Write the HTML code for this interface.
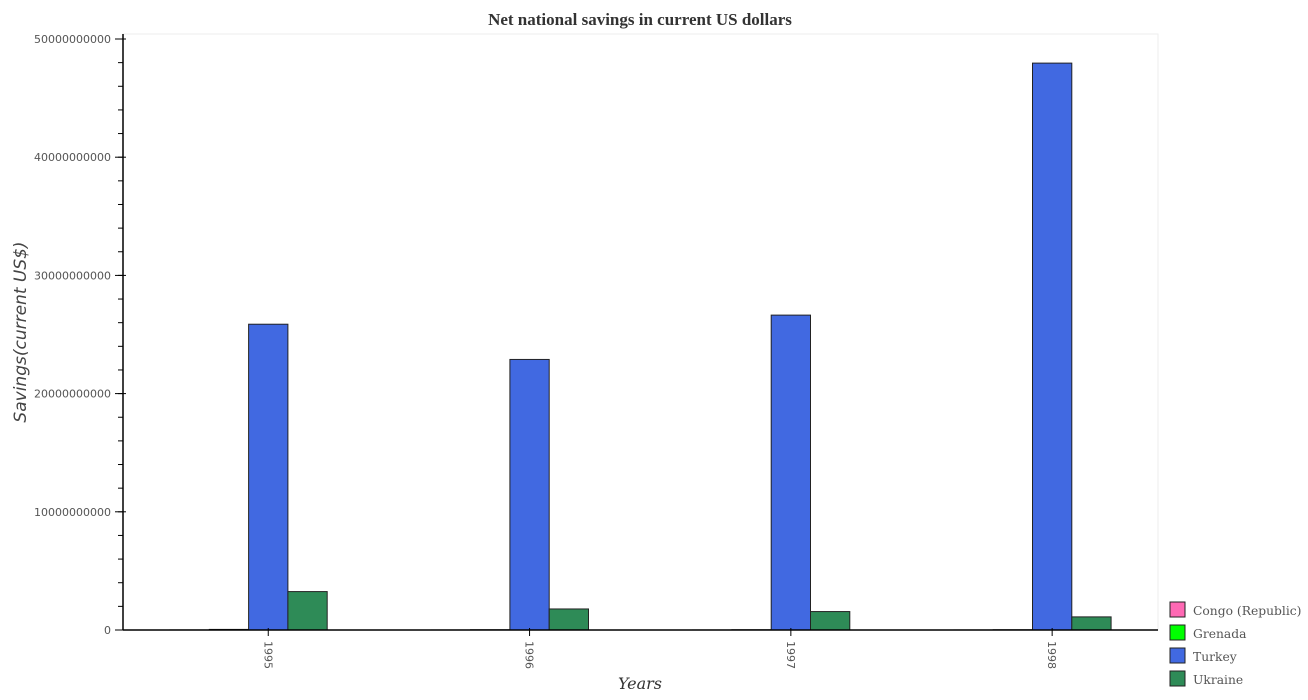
<!DOCTYPE html>
<html><head><meta charset="utf-8"><style>
body{margin:0;background:#fff;}
svg{display:block;}
</style></head><body>
<svg id="chart" width="1308" height="700" xmlns="http://www.w3.org/2000/svg">
<text x="640" y="25" text-anchor="middle" font-family="Liberation Serif, serif" font-weight="bold" font-size="17" fill="#333">Net national savings in current US dollars</text>
<rect x="123" y="34" width="1035" height="596" fill="#fff" stroke="#eee"/>
<g id="bars"></g>
<g id="yaxis"></g>
<g id="xaxis"></g>
<text transform="translate(26,332) rotate(-90)" text-anchor="middle" font-family="DejaVu Sans, sans-serif" font-style="italic" font-size="17" fill="#444">Savings(current US$)</text>
<text x="640" y="689" text-anchor="middle" font-family="DejaVu Serif, serif" font-style="italic" font-size="16" fill="#333">Years</text>
<g id="legend"></g>
</svg>
<script>
const categories = ["1995","1996","1997","1998"];
const seriesNames = ["Congo (Republic)","Grenada","Turkey","Ukraine"];
const congo = [0.005e9, 0.003e9, 0.003e9, 0.002e9];
const grenada = [0.05e9, 0.02e9, 0.02e9, 0.02e9];
const turkey = [25.87e9, 22.89e9, 26.64e9, 47.96e9];
const ukraine = [3.25e9, 1.78e9, 1.56e9, 1.11e9];
const yTicks = [0, 10e9, 20e9, 30e9, 40e9, 50e9];
const yTickLabels = ["0","10000000000","20000000000","30000000000","40000000000","50000000000"];
const colors = ["#ff69b4","#00ff00","#4169e1","#2e8b57"];
const NS = "http://www.w3.org/2000/svg";
const y0 = 630, pxPerUnit = 591/50e9;
function yScale(v){ return y0 - v*pxPerUnit; }
const barW = 39.3;
function xGroup(i){ return 170 + i*261.3; }
const all = [congo, grenada, turkey, ukraine];
const bars = document.getElementById('bars');
all.forEach((s, si) => {
  s.forEach((v, i) => {
    const r = document.createElementNS(NS,'rect');
    const x = xGroup(i) + si*barW;
    r.setAttribute('x', x); r.setAttribute('width', barW);
    r.setAttribute('y', yScale(v)); r.setAttribute('height', Math.max(0, y0 - yScale(v)));
    r.setAttribute('fill', colors[si]); r.setAttribute('stroke', '#222'); r.setAttribute('stroke-width','1');
    
    
    bars.appendChild(r);
  });
});
const ya = document.getElementById('yaxis');
let l = document.createElementNS(NS,'line');
l.setAttribute('x1',123);l.setAttribute('x2',123);l.setAttribute('y1',34);l.setAttribute('y2',630);l.setAttribute('stroke','#000');l.setAttribute('stroke-width','1.5');


ya.appendChild(l);
for(let v=0; v<=50e9; v+=2e9){
  const t = document.createElementNS(NS,'line');
  t.setAttribute('x1',118);t.setAttribute('x2',123);t.setAttribute('y1',yScale(v));t.setAttribute('y2',yScale(v));t.setAttribute('stroke','#000');
  
  
  ya.appendChild(t);
}
yTicks.forEach((v,i)=>{
  const t = document.createElementNS(NS,'line');
  t.setAttribute('x1',115);t.setAttribute('x2',126);t.setAttribute('y1',yScale(v));t.setAttribute('y2',yScale(v));t.setAttribute('stroke','#000');
  
  
  ya.appendChild(t);
  const tx = document.createElementNS(NS,'text');
  tx.setAttribute('x',111);tx.setAttribute('y',yScale(v)+4);tx.setAttribute('text-anchor','end');
  tx.setAttribute('font-family','DejaVu Sans, sans-serif');tx.setAttribute('font-size','11');tx.setAttribute('fill','#555');
  tx.textContent = yTickLabels[i];
  
  
  ya.appendChild(tx);
});
const xa = document.getElementById('xaxis');
l = document.createElementNS(NS,'line');
l.setAttribute('x1',123);l.setAttribute('x2',1158);l.setAttribute('y1',630);l.setAttribute('y2',630);l.setAttribute('stroke','#000');l.setAttribute('stroke-width','1.5');


xa.appendChild(l);
categories.forEach((c,i)=>{
  const cx = xGroup(i) + 2.5*barW;
  const t = document.createElementNS(NS,'line');
  t.setAttribute('x1',cx);t.setAttribute('x2',cx);t.setAttribute('y1',628);t.setAttribute('y2',636);t.setAttribute('stroke','#000');
  
  
  xa.appendChild(t);
  const tx = document.createElementNS(NS,'text');
  tx.setAttribute('transform','translate('+(cx-4)+',641) rotate(90)');
  tx.setAttribute('font-family','DejaVu Sans, sans-serif');tx.setAttribute('font-size','11');tx.setAttribute('fill','#555');
  tx.textContent = c;
  
  
  xa.appendChild(tx);
});
const lg = document.getElementById('legend');
seriesNames.forEach((n,i)=>{
  const y = 602 + i*23;
  const r = document.createElementNS(NS,'rect');
  r.setAttribute('x',1170);r.setAttribute('y',y);r.setAttribute('width',15);r.setAttribute('height',15);
  r.setAttribute('fill',colors[i]);r.setAttribute('stroke','#222');
  
  
  lg.appendChild(r);
  const tx = document.createElementNS(NS,'text');
  tx.setAttribute('x',1193);tx.setAttribute('y',y+13);
  tx.setAttribute('font-family','DejaVu Serif, serif');tx.setAttribute('font-size','12.3');tx.setAttribute('fill','#555');
  tx.textContent = n;
  
  
  lg.appendChild(tx);
});
</script>
</body></html>
